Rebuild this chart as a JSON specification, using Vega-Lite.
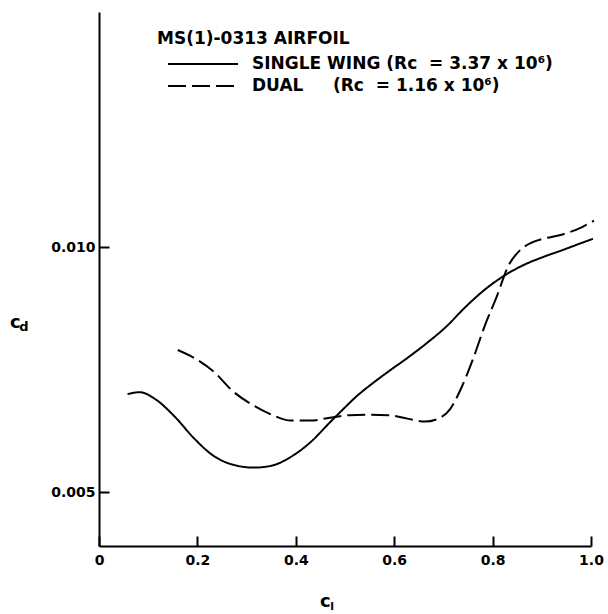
{
  "$schema": "https://vega.github.io/schema/vega-lite/v6.json",
  "width": 492,
  "height": 534,
  "autosize": {"type": "none"},
  "padding": {"left": 99, "top": 12, "right": 17, "bottom": 68},
  "background": "white",
  "config": {
    "view": {"stroke": null},
    "font": "DejaVu Sans",
    "axis": {
      "grid": false,
      "domainColor": "black",
      "domainWidth": 2,
      "tickColor": "black",
      "tickWidth": 2,
      "tickSize": -10,
      "labelColor": "black",
      "labelFont": "DejaVu Sans",
      "labelFontSize": 14,
      "labelFontWeight": "bold",
      "title": null
    }
  },
  "datasets": {
    "curves": [
      {"series": "single", "cl": 0.058, "cd": 0.00700},
      {"series": "single", "cl": 0.083, "cd": 0.00704},
      {"series": "single", "cl": 0.114, "cd": 0.00690},
      {"series": "single", "cl": 0.154, "cd": 0.00654},
      {"series": "single", "cl": 0.193, "cd": 0.00610},
      {"series": "single", "cl": 0.233, "cd": 0.00574},
      {"series": "single", "cl": 0.272, "cd": 0.00556},
      {"series": "single", "cl": 0.315, "cd": 0.00550},
      {"series": "single", "cl": 0.351, "cd": 0.00554},
      {"series": "single", "cl": 0.390, "cd": 0.00572},
      {"series": "single", "cl": 0.430, "cd": 0.00602},
      {"series": "single", "cl": 0.469, "cd": 0.00642},
      {"series": "single", "cl": 0.493, "cd": 0.00666},
      {"series": "single", "cl": 0.524, "cd": 0.00696},
      {"series": "single", "cl": 0.556, "cd": 0.00722},
      {"series": "single", "cl": 0.588, "cd": 0.00746},
      {"series": "single", "cl": 0.627, "cd": 0.00774},
      {"series": "single", "cl": 0.666, "cd": 0.00804},
      {"series": "single", "cl": 0.706, "cd": 0.00838},
      {"series": "single", "cl": 0.745, "cd": 0.00878},
      {"series": "single", "cl": 0.785, "cd": 0.00914},
      {"series": "single", "cl": 0.824, "cd": 0.00942},
      {"series": "single", "cl": 0.864, "cd": 0.00964},
      {"series": "single", "cl": 0.903, "cd": 0.00980},
      {"series": "single", "cl": 0.942, "cd": 0.00994},
      {"series": "single", "cl": 0.982, "cd": 0.01009},
      {"series": "single", "cl": 1.004, "cd": 0.01017},
      {"series": "dual", "cl": 0.160, "cd": 0.00790},
      {"series": "dual", "cl": 0.193, "cd": 0.00774},
      {"series": "dual", "cl": 0.233, "cd": 0.00746},
      {"series": "dual", "cl": 0.272, "cd": 0.00706},
      {"series": "dual", "cl": 0.312, "cd": 0.00678},
      {"series": "dual", "cl": 0.351, "cd": 0.00658},
      {"series": "dual", "cl": 0.390, "cd": 0.00646},
      {"series": "dual", "cl": 0.430, "cd": 0.00646},
      {"series": "dual", "cl": 0.469, "cd": 0.00652},
      {"series": "dual", "cl": 0.509, "cd": 0.00657},
      {"series": "dual", "cl": 0.548, "cd": 0.00658},
      {"series": "dual", "cl": 0.588, "cd": 0.00657},
      {"series": "dual", "cl": 0.627, "cd": 0.00650},
      {"series": "dual", "cl": 0.662, "cd": 0.00644},
      {"series": "dual", "cl": 0.690, "cd": 0.00650},
      {"series": "dual", "cl": 0.714, "cd": 0.00670},
      {"series": "dual", "cl": 0.737, "cd": 0.00714},
      {"series": "dual", "cl": 0.761, "cd": 0.00774},
      {"series": "dual", "cl": 0.785, "cd": 0.00842},
      {"series": "dual", "cl": 0.808, "cd": 0.00898},
      {"series": "dual", "cl": 0.832, "cd": 0.00962},
      {"series": "dual", "cl": 0.856, "cd": 0.00994},
      {"series": "dual", "cl": 0.879, "cd": 0.01009},
      {"series": "dual", "cl": 0.903, "cd": 0.01017},
      {"series": "dual", "cl": 0.942, "cd": 0.01026},
      {"series": "dual", "cl": 0.982, "cd": 0.01041},
      {"series": "dual", "cl": 1.006, "cd": 0.01054}
    ]
  },
  "layer": [
    {
      "data": {"name": "curves"},
      "mark": {"type": "line", "color": "black", "strokeWidth": 2, "interpolate": "monotone", "clip": false},
      "encoding": {
        "x": {
          "field": "cl", "type": "quantitative",
          "scale": {"domain": [0, 1], "nice": false, "zero": false},
          "axis": {"values": [0, 0.2, 0.4, 0.6, 0.8, 1.0], "labelExpr": "datum.value == 0 ? '0' : format(datum.value, '.1f')", "labelPadding": 17, "labelFlush": false}
        },
        "y": {
          "field": "cd", "type": "quantitative",
          "scale": {"domain": [0.0039, 0.0148], "nice": false, "zero": false},
          "axis": {"values": [0.005, 0.010], "format": ".3f", "labelPadding": 14}
        },
        "strokeDash": {
          "field": "series", "type": "nominal",
          "scale": {"domain": ["single", "dual"], "range": [[1, 0], [18, 6]]},
          "legend": {
            "title": "MS(1)-0313 AIRFOIL",
            "orient": "none",
            "legendX": 58,
            "legendY": 19,
            "padding": 0,
            "titleFont": "DejaVu Sans",
            "titleFontSize": 17,
            "titleFontWeight": "bold",
            "titleColor": "black",
            "titleLimit": 500,
            "titlePadding": 8,
            "symbolType": "stroke",
            "symbolSize": 4900,
            "symbolStrokeWidth": 2,
            "symbolStrokeColor": "black",
            "symbolOffset": 10,
            "clipHeight": 16,
            "labelFont": "DejaVu Sans",
            "labelFontSize": 17,
            "labelFontWeight": "bold",
            "labelColor": "black",
            "labelOffset": 13,
            "labelLimit": 500,
            "rowPadding": 5,
            "labelExpr": "datum.value == 'single' ? 'SINGLE WING (Rᴄ\u00a0 = 3.37 x 10⁶)' : 'DUAL\u00a0\u00a0\u00a0\u00a0\u00a0(Rᴄ\u00a0 = 1.16 x 10⁶)'"
          }
        }
      }
    },
    {
      "data": {"values": [{}]},
      "mark": {"type": "text", "text": "c", "fontSize": 18, "fontWeight": "bold", "color": "black", "align": "center", "baseline": "middle"},
      "encoding": {"x": {"datum": -0.17}, "y": {"datum": 0.00845}}
    },
    {
      "data": {"values": [{}]},
      "mark": {"type": "text", "text": "d", "fontSize": 13, "fontWeight": "bold", "color": "black", "align": "left", "baseline": "middle", "dx": 4, "dy": 4},
      "encoding": {"x": {"datum": -0.17}, "y": {"datum": 0.00845}}
    },
    {
      "data": {"values": [{}]},
      "mark": {"type": "text", "text": "c", "fontSize": 18, "fontWeight": "bold", "color": "black", "align": "center", "baseline": "middle"},
      "encoding": {"x": {"datum": 0.46}, "y": {"datum": 0.00275}}
    },
    {
      "data": {"values": [{}]},
      "mark": {"type": "text", "text": "l", "fontSize": 11, "fontWeight": "bold", "color": "black", "align": "left", "baseline": "middle", "dx": 5, "dy": 5},
      "encoding": {"x": {"datum": 0.46}, "y": {"datum": 0.00275}}
    }
  ]
}
